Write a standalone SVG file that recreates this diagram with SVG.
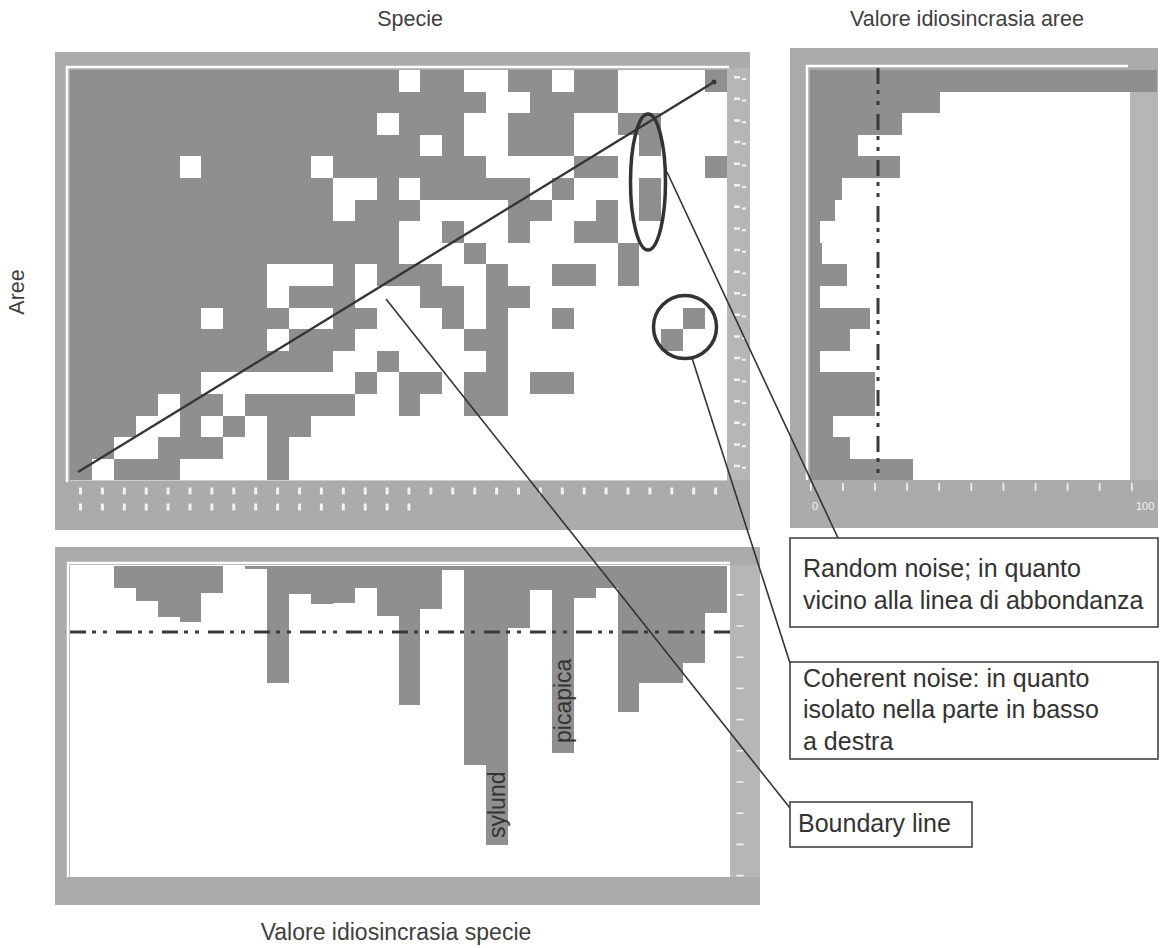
<svg xmlns="http://www.w3.org/2000/svg" width="1166" height="948" viewBox="0 0 1166 948">
<style>
.frame{fill:#ababab}
.strip{fill:#b6b6b6}
.plot{fill:#ffffff}
.cell{fill:#8f8f8f}
.inner{stroke:#ffffff;stroke-width:2.5;fill:none}
.title{font-family:"Liberation Sans",Arial,sans-serif;font-size:21.5px;fill:#404040}
.note{font-family:"Liberation Sans",Arial,sans-serif;font-size:25px;fill:#333333}
.box{fill:#ffffff;stroke:#444444;stroke-width:1.6}
.conn{stroke:#333333;stroke-width:1.6;fill:none}
.mark{stroke:#333333;stroke-width:3.5;fill:none}
.tick{stroke:#f2f2f2;fill:none}
.dash{stroke:#3a3a3a;stroke-width:3;fill:none;stroke-dasharray:16 6 4 7 4 9}
.vert{font-family:"Liberation Sans",Arial,sans-serif;font-size:23px;fill:#333333}
.small{font-family:"Liberation Sans",Arial,sans-serif;font-size:11px;fill:#f2f2f2}
</style>

<g id="axis-titles">
<text class="title" x="410" y="26" text-anchor="middle">Specie</text>
<text class="title" x="967" y="26" text-anchor="middle">Valore idiosincrasia aree</text>
<text class="title" transform="translate(24 292) rotate(-90)" text-anchor="middle">Aree</text>
<text class="title" x="396" y="940" text-anchor="middle" style="font-size:23px">Valore idiosincrasia specie</text>
</g>

<g id="matrix">
<rect class="frame" x="55" y="52" width="695" height="478"/>
<rect class="strip" x="727" y="68" width="23" height="412"/>
<rect class="plot" x="70" y="70" width="657" height="410.4"/>
<path class="inner" d="M67 482 V67 H729"/>
<g transform="translate(70 70) scale(21.9 21.6)" class="cell" shape-rendering="crispEdges">
<rect x="0" y="0" width="15" height="1"/><rect x="16" y="0" width="2" height="1"/><rect x="20" y="0" width="2" height="1"/><rect x="23" y="0" width="2" height="1"/><rect x="29" y="0" width="1" height="1"/>
<rect x="0" y="1" width="19" height="1"/><rect x="21" y="1" width="4" height="1"/>
<rect x="0" y="2" width="14" height="1"/><rect x="15" y="2" width="3" height="1"/><rect x="20" y="2" width="3" height="1"/><rect x="25" y="2" width="2" height="1"/>
<rect x="0" y="3" width="16" height="1"/><rect x="17" y="3" width="1" height="1"/><rect x="20" y="3" width="3" height="1"/><rect x="26" y="3" width="1" height="1"/>
<rect x="0" y="4" width="5" height="1"/><rect x="6" y="4" width="5" height="1"/><rect x="12" y="4" width="7" height="1"/><rect x="23" y="4" width="2" height="1"/><rect x="29" y="4" width="1" height="1"/>
<rect x="0" y="5" width="12" height="1"/><rect x="14" y="5" width="1" height="1"/><rect x="16" y="5" width="5" height="1"/><rect x="22" y="5" width="1" height="1"/><rect x="26" y="5" width="1" height="1"/>
<rect x="0" y="6" width="12" height="1"/><rect x="13" y="6" width="3" height="1"/><rect x="20" y="6" width="2" height="1"/><rect x="24" y="6" width="1" height="1"/><rect x="26" y="6" width="1" height="1"/>
<rect x="0" y="7" width="15" height="1"/><rect x="17" y="7" width="1" height="1"/><rect x="20" y="7" width="1" height="1"/><rect x="23" y="7" width="2" height="1"/>
<rect x="0" y="8" width="15" height="1"/><rect x="18" y="8" width="1" height="1"/><rect x="25" y="8" width="1" height="1"/>
<rect x="0" y="9" width="9" height="1"/><rect x="12" y="9" width="1" height="1"/><rect x="14" y="9" width="3" height="1"/><rect x="19" y="9" width="1" height="1"/><rect x="22" y="9" width="2" height="1"/><rect x="25" y="9" width="1" height="1"/>
<rect x="0" y="10" width="9" height="1"/><rect x="10" y="10" width="3" height="1"/><rect x="16" y="10" width="2" height="1"/><rect x="19" y="10" width="2" height="1"/>
<rect x="0" y="11" width="6" height="1"/><rect x="7" y="11" width="3" height="1"/><rect x="12" y="11" width="2" height="1"/><rect x="17" y="11" width="1" height="1"/><rect x="19" y="11" width="1" height="1"/><rect x="22" y="11" width="1" height="1"/><rect x="28" y="11" width="1" height="1"/>
<rect x="0" y="12" width="9" height="1"/><rect x="10" y="12" width="3" height="1"/><rect x="18" y="12" width="2" height="1"/><rect x="27" y="12" width="1" height="1"/>
<rect x="0" y="13" width="12" height="1"/><rect x="14" y="13" width="1" height="1"/><rect x="19" y="13" width="1" height="1"/>
<rect x="0" y="14" width="6" height="1"/><rect x="13" y="14" width="1" height="1"/><rect x="15" y="14" width="2" height="1"/><rect x="18" y="14" width="2" height="1"/><rect x="21" y="14" width="2" height="1"/>
<rect x="0" y="15" width="4" height="1"/><rect x="5" y="15" width="2" height="1"/><rect x="8" y="15" width="5" height="1"/><rect x="15" y="15" width="1" height="1"/><rect x="18" y="15" width="2" height="1"/>
<rect x="0" y="16" width="3" height="1"/><rect x="5" y="16" width="1" height="1"/><rect x="7" y="16" width="1" height="1"/><rect x="9" y="16" width="2" height="1"/>
<rect x="0" y="17" width="2" height="1"/><rect x="4" y="17" width="3" height="1"/><rect x="9" y="17" width="1" height="1"/>
<rect x="0" y="18" width="1" height="1"/><rect x="2" y="18" width="3" height="1"/><rect x="9" y="18" width="1" height="1"/>
</g>
<line class="tick" x1="79" y1="491" x2="727" y2="491" stroke-width="7" stroke-dasharray="3 18.9"/>
<line class="tick" x1="79" y1="507" x2="420" y2="507" stroke-width="7" stroke-dasharray="3 18.9"/>
<line class="tick" x1="737" y1="76" x2="737" y2="480" stroke-width="6" stroke-dasharray="2.5 19.1"/>
<line class="tick" x1="744" y1="78" x2="744" y2="480" stroke-width="4" stroke-dasharray="2 19.6"/>
</g>

<g id="area-panel">
<rect class="frame" x="790" y="48" width="368" height="480"/>
<rect class="strip" x="1130" y="70" width="28" height="410"/>
<rect class="plot" x="810" y="70" width="320" height="410"/>
<path class="inner" d="M807 480 V66 H1128"/>
<g class="cell" shape-rendering="crispEdges">
<rect x="810" y="70" width="347" height="21.6"/>
<rect x="810" y="91.6" width="130" height="21.6"/>
<rect x="810" y="113.2" width="92" height="21.6"/>
<rect x="810" y="134.8" width="48" height="21.6"/>
<rect x="810" y="156.4" width="90" height="21.6"/>
<rect x="810" y="178" width="32" height="21.6"/>
<rect x="810" y="199.6" width="25" height="21.6"/>
<rect x="810" y="221.2" width="10" height="21.6"/>
<rect x="810" y="242.8" width="12" height="21.6"/>
<rect x="810" y="264.4" width="37" height="21.6"/>
<rect x="810" y="286" width="10" height="21.6"/>
<rect x="810" y="307.6" width="60" height="21.6"/>
<rect x="810" y="329.2" width="40" height="21.6"/>
<rect x="810" y="350.8" width="10" height="21.6"/>
<rect x="810" y="372.4" width="65" height="43.2"/>
<rect x="810" y="415.6" width="23" height="21.6"/>
<rect x="810" y="437.2" width="40" height="21.6"/>
<rect x="810" y="458.8" width="103" height="21.6"/>
</g>
<line class="dash" x1="878" y1="68" x2="878" y2="478"/>
<line class="tick" x1="810" y1="487" x2="1135" y2="487" stroke-width="8" stroke-dasharray="1.6 30.5"/>
<text class="small" x="812" y="510">0</text>
<text class="small" x="1136" y="510">100</text>
</g>

<g id="species-panel">
<rect class="frame" x="55" y="547" width="705" height="358"/>
<rect class="strip" x="730" y="565" width="30" height="312"/>
<rect class="plot" x="70" y="565" width="660" height="312"/>
<path class="inner" d="M68 877 V563 H730"/>
<g class="cell" shape-rendering="crispEdges">
<rect x="113.8" y="566" width="21.9" height="22"/>
<rect x="135.7" y="566" width="21.9" height="35"/>
<rect x="157.6" y="566" width="21.9" height="51"/>
<rect x="179.5" y="566" width="21.9" height="56"/>
<rect x="201.4" y="566" width="21.9" height="27"/>
<rect x="245.2" y="566" width="21.9" height="3"/>
<rect x="267.1" y="566" width="21.9" height="117"/>
<rect x="289" y="566" width="21.9" height="28"/>
<rect x="310.9" y="566" width="21.9" height="38"/>
<rect x="332.8" y="566" width="21.9" height="37"/>
<rect x="354.7" y="566" width="21.9" height="22"/>
<rect x="376.6" y="566" width="21.9" height="50"/>
<rect x="398.5" y="566" width="21.9" height="139"/>
<rect x="420.4" y="566" width="21.9" height="43"/>
<rect x="442.3" y="566" width="21.9" height="4"/>
<rect x="464.2" y="566" width="21.9" height="199"/>
<rect x="486.1" y="566" width="21.9" height="279"/>
<rect x="508" y="566" width="21.9" height="62"/>
<rect x="529.9" y="566" width="21.9" height="24"/>
<rect x="551.8" y="566" width="21.9" height="187"/>
<rect x="573.7" y="566" width="21.9" height="32"/>
<rect x="595.6" y="566" width="21.9" height="22"/>
<rect x="617.5" y="566" width="21.9" height="146"/>
<rect x="639.4" y="566" width="43.8" height="117"/>
<rect x="683.2" y="566" width="21.9" height="97"/>
<rect x="705.1" y="566" width="21.9" height="47"/>
</g>
<line class="dash" x1="70" y1="632" x2="730" y2="632"/>
<line class="tick" x1="740" y1="594" x2="740" y2="877" stroke-width="7" stroke-dasharray="1.6 29.6"/>
<text class="vert" transform="translate(505 838) rotate(-90)">sylund</text>
<text class="vert" transform="translate(571 743) rotate(-90)">picapica</text>
</g>

<g id="abundance-line">
<line x1="78" y1="472" x2="714" y2="82" stroke="#363636" stroke-width="2.4"/>
<circle cx="714" cy="82" r="2.5" fill="#363636"/>
</g>

<g id="annotations">
<ellipse class="mark" cx="648" cy="182" rx="17.5" ry="68"/>
<circle class="mark" cx="685" cy="327" r="31.5"/>
</g>

<g id="connectors">
<line class="conn" x1="667" y1="172" x2="838" y2="538"/>
<line class="conn" x1="692" y1="358" x2="790" y2="663"/>
<line class="conn" x1="386" y1="299" x2="790" y2="808"/>
</g>

<g id="note-random">
<rect class="box" x="790" y="538" width="368" height="89"/>
<text class="note" x="803" y="577">Random noise; in quanto</text>
<text class="note" x="803" y="609">vicino alla linea di abbondanza</text>
</g>

<g id="note-coherent">
<rect class="box" x="790" y="662" width="368" height="97"/>
<text class="note" x="803" y="687">Coherent noise: in quanto</text>
<text class="note" x="803" y="718">isolato nella parte in basso</text>
<text class="note" x="803" y="750">a destra</text>
</g>

<g id="note-boundary">
<rect class="box" x="790" y="802" width="182" height="45"/>
<text class="note" x="798" y="832">Boundary line</text>
</g>
</svg>
